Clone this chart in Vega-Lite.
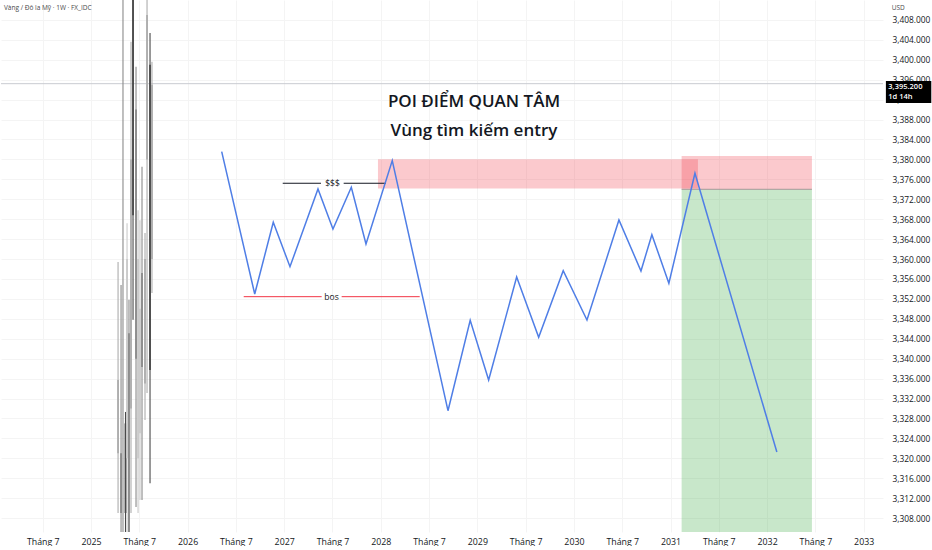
{
  "$schema": "https://vega.github.io/schema/vega-lite/v6.json",
  "width": 882,
  "height": 532,
  "padding": 0,
  "autosize": {"type": "pad"},
  "background": "white",
  "config": {
    "view": {"stroke": null},
    "font": "Open Sans",
    "axis": {"domain": false, "ticks": false, "gridColor": "#f4f4f4", "labelColor": "#131722", "title": null}
  },
  "datasets": {
    "candles": [
      {"x": 2025.280, "low": 3309.0, "high": 3359.4, "open": 3335.7, "close": 3321.0, "tone": "light"},
      {"x": 2025.311, "low": 3300.0, "high": 3354.8, "open": 3321.0, "close": 3309.0, "tone": "mid"},
      {"x": 2025.331, "low": 3300.0, "high": 3420.0, "open": 3350.0, "close": 3350.0, "tone": "mid"},
      {"x": 2025.357, "low": 3300.0, "high": 3329.3, "open": 3327.0, "close": 3309.0, "tone": "dark"},
      {"x": 2025.373, "low": 3300.0, "high": 3367.2, "open": 3360.0, "close": 3320.0, "tone": "pale"},
      {"x": 2025.393, "low": 3300.0, "high": 3351.8, "open": 3345.1, "close": 3300.0, "tone": "mid"},
      {"x": 2025.414, "low": 3309.0, "high": 3403.6, "open": 3380.0, "close": 3330.0, "tone": "light"},
      {"x": 2025.435, "low": 3347.8, "high": 3420.0, "open": 3420.0, "close": 3368.8, "tone": "dark"},
      {"x": 2025.466, "low": 3310.2, "high": 3398.6, "open": 3390.0, "close": 3340.0, "tone": "mid"},
      {"x": 2025.487, "low": 3309.0, "high": 3369.8, "open": 3360.0, "close": 3320.0, "tone": "pale"},
      {"x": 2025.507, "low": 3311.6, "high": 3367.8, "open": 3350.0, "close": 3325.0, "tone": "pale"},
      {"x": 2025.528, "low": 3311.6, "high": 3378.5, "open": 3357.2, "close": 3338.3, "tone": "mid"},
      {"x": 2025.559, "low": 3327.7, "high": 3365.2, "open": 3360.0, "close": 3335.0, "tone": "light"},
      {"x": 2025.580, "low": 3333.1, "high": 3420.0, "open": 3409.0, "close": 3380.0, "tone": "light"},
      {"x": 2025.611, "low": 3315.0, "high": 3405.4, "open": 3399.0, "close": 3337.7, "tone": "dark"},
      {"x": 2025.631, "low": 3353.2, "high": 3399.6, "open": 3395.0, "close": 3360.0, "tone": "light"}
    ],
    "zones": [
      {"zone": "poi", "x1": 2027.971, "x2": 2031.284, "top": 3380.03, "bot": 3374.16},
      {"zone": "sl", "x1": 2031.115, "x2": 2032.464, "top": 3380.69, "bot": 3374.0},
      {"zone": "tp", "x1": 2031.115, "x2": 2032.464, "top": 3374.0, "bot": 3305.2}
    ],
    "levels": [
      {"kind": "liq", "x1": 2026.985, "x2": 2027.381, "y": 3375.21},
      {"kind": "liq", "x1": 2027.616, "x2": 2028.054, "y": 3375.21},
      {"kind": "bos", "x1": 2026.581, "x2": 2027.388, "y": 3352.44},
      {"kind": "bos", "x1": 2027.595, "x2": 2028.403, "y": 3352.44},
      {"kind": "entry", "x1": 2031.115, "x2": 2032.464, "y": 3374.0}
    ],
    "path": [
      {"x": 2026.353, "y": 3381.55},
      {"x": 2026.695, "y": 3352.98},
      {"x": 2026.887, "y": 3367.38},
      {"x": 2027.060, "y": 3358.46},
      {"x": 2027.350, "y": 3374.06},
      {"x": 2027.505, "y": 3366.03},
      {"x": 2027.695, "y": 3374.41},
      {"x": 2027.847, "y": 3363.02},
      {"x": 2028.119, "y": 3379.75},
      {"x": 2028.696, "y": 3329.55},
      {"x": 2028.926, "y": 3347.70},
      {"x": 2029.117, "y": 3335.71},
      {"x": 2029.407, "y": 3356.39},
      {"x": 2029.635, "y": 3344.29},
      {"x": 2029.889, "y": 3357.66},
      {"x": 2030.135, "y": 3347.76},
      {"x": 2030.466, "y": 3367.84},
      {"x": 2030.694, "y": 3357.60},
      {"x": 2030.807, "y": 3364.89},
      {"x": 2030.983, "y": 3355.13},
      {"x": 2031.253, "y": 3377.22},
      {"x": 2032.101, "y": 3321.25}
    ]
  },
  "layer": [
    {
      "data": {"name": "path"},
      "mark": {"type": "point", "opacity": 0},
      "encoding": {
        "x": {
          "field": "x",
          "type": "quantitative",
          "scale": {"domain": [2024.068, 2033.2], "nice": false, "zero": false},
          "axis": {
            "values": [2024.5, 2025, 2025.5, 2026, 2026.5, 2027, 2027.5, 2028, 2028.5, 2029, 2029.5, 2030, 2030.5, 2031, 2031.5, 2032, 2032.5, 2033],
            "tickCount": 40,
            "labelExpr": "datum.value % 1 === 0 ? '' + datum.value : 'Tháng 7'",
            "labelFontSize": 8.8,
            "labelPadding": 5,
            "labelFlush": false,
            "labelOverlap": false,
            "grid": true
          }
        },
        "y": {
          "field": "y",
          "type": "quantitative",
          "scale": {"domain": [3305.2, 3412.0], "nice": false, "zero": false},
          "axis": {
            "orient": "right",
            "values": [3308, 3312, 3316, 3320, 3324, 3328, 3332, 3336, 3340, 3344, 3348, 3352, 3356, 3360, 3364, 3368, 3372, 3376, 3380, 3384, 3388, 3392, 3396, 3400, 3404, 3408],
            "tickCount": 40,
            "format": ",.3f",
            "labelFontSize": 8.4,
            "labelPadding": 9,
            "labelOverlap": false,
            "grid": true
          }
        }
      }
    },
    {
      "data": {"values": [{"y": 3395.2}]},
      "mark": {"type": "rule", "color": "#c9cbd1", "strokeWidth": 1},
      "encoding": {
        "y": {"field": "y", "type": "quantitative"}
      }
    },
    {
      "data": {"name": "candles"},
      "mark": {"type": "rule", "strokeWidth": 1.1, "clip": true},
      "encoding": {
        "x": {"field": "x", "type": "quantitative"},
        "y": {"field": "low", "type": "quantitative"},
        "y2": {"field": "high"},
        "color": {"field": "tone", "type": "nominal", "legend": null,
          "scale": {"domain": ["dark", "mid", "light", "pale"], "range": ["#4a4a4a", "#8a8a8a", "#adadad", "#cacaca"]}}
      }
    },
    {
      "data": {"name": "candles"},
      "mark": {"type": "rule", "strokeWidth": 1.8, "clip": true},
      "encoding": {
        "x": {"field": "x", "type": "quantitative"},
        "y": {"field": "open", "type": "quantitative"},
        "y2": {"field": "close"},
        "color": {"field": "tone", "type": "nominal", "legend": null}
      }
    },
    {
      "data": {"name": "zones"},
      "mark": {"type": "rect", "opacity": 0.27},
      "encoding": {
        "x": {"field": "x1", "type": "quantitative"},
        "x2": {"field": "x2"},
        "y": {"field": "top", "type": "quantitative"},
        "y2": {"field": "bot"},
        "fill": {"field": "zone", "type": "nominal", "legend": null,
          "scale": {"domain": ["poi", "sl", "tp"], "range": ["#f23645", "#f23645", "#35a53a"]}}
      }
    },
    {
      "data": {"name": "levels"},
      "mark": {"type": "rule", "strokeWidth": 1},
      "encoding": {
        "x": {"field": "x1", "type": "quantitative"},
        "x2": {"field": "x2"},
        "y": {"field": "y", "type": "quantitative"},
        "stroke": {"field": "kind", "type": "nominal", "legend": null,
          "scale": {"domain": ["liq", "bos", "entry"], "range": ["#131722", "#f23645", "#a59a9a"]}}
      }
    },
    {
      "data": {"name": "path"},
      "mark": {"type": "line", "color": "#4f7ee6", "strokeWidth": 1.5},
      "encoding": {
        "x": {"field": "x", "type": "quantitative"},
        "y": {"field": "y", "type": "quantitative"}
      }
    },
    {
      "data": {"values": [
        {"label": "$$$", "x": 2027.5, "y": 3375.21},
        {"label": "bos", "x": 2027.49, "y": 3352.44}
      ]},
      "mark": {"type": "text", "fontSize": 8.5, "color": "#131722", "baseline": "middle", "align": "center"},
      "encoding": {
        "x": {"field": "x", "type": "quantitative"},
        "y": {"field": "y", "type": "quantitative"},
        "text": {"field": "label"}
      }
    },
    {
      "data": {"values": [
        {"label": "POI ĐIỂM QUAN TÂM", "x": 2028.965, "y": 3391.53},
        {"label": "Vùng tìm kiếm entry", "x": 2028.965, "y": 3385.71}
      ]},
      "mark": {"type": "text", "fontSize": 17, "fontWeight": 600, "color": "#131722", "baseline": "middle", "align": "center"},
      "encoding": {
        "x": {"field": "x", "type": "quantitative"},
        "y": {"field": "y", "type": "quantitative"},
        "text": {"field": "label"}
      }
    },
    {
      "data": {"values": [
        {"label": "Vàng / Đô la Mỹ · 1W · FX_IDC", "x": 2024.099, "y": 3410.4},
        {"label": "USD", "x": 2033.29, "y": 3410.4}
      ]},
      "mark": {"type": "text", "fontSize": 6.5, "color": "#4a4a4a", "baseline": "middle", "align": "left"},
      "encoding": {
        "x": {"field": "x", "type": "quantitative"},
        "y": {"field": "y", "type": "quantitative"},
        "text": {"field": "label"}
      }
    },
    {
      "data": {"values": [{"x1": 2033.23, "x2": 2033.70, "top": 3395.75, "bot": 3391.33}]},
      "mark": {"type": "rect", "color": "#000000"},
      "encoding": {
        "x": {"field": "x1", "type": "quantitative"},
        "x2": {"field": "x2"},
        "y": {"field": "top", "type": "quantitative"},
        "y2": {"field": "bot"}
      }
    },
    {
      "data": {"values": [
        {"label": "3,395.200", "x": 2033.255, "y": 3394.5},
        {"label": "1d 14h", "x": 2033.255, "y": 3392.55}
      ]},
      "mark": {"type": "text", "fontSize": 7.5, "fontWeight": 600, "color": "white", "baseline": "middle", "align": "left"},
      "encoding": {
        "x": {"field": "x", "type": "quantitative"},
        "y": {"field": "y", "type": "quantitative"},
        "text": {"field": "label"}
      }
    }
  ]
}
